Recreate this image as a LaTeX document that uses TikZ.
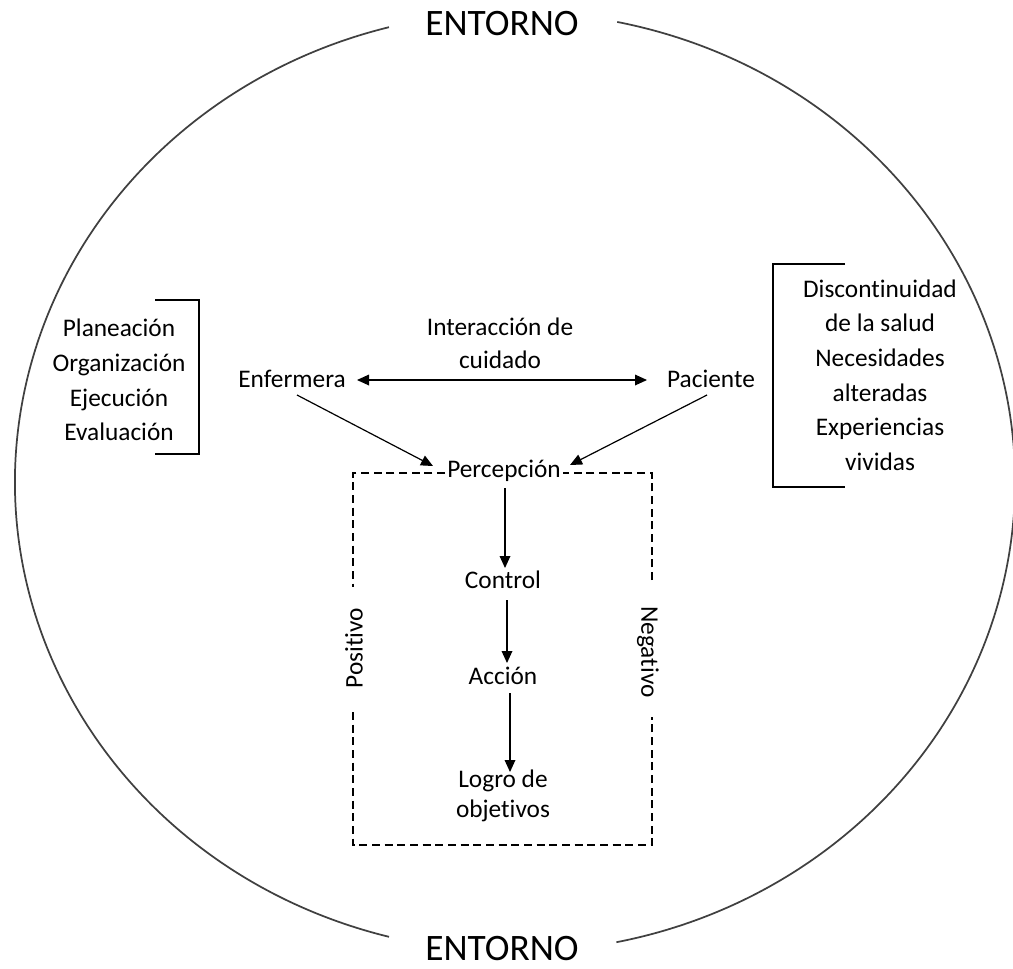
\documentclass[tikz,border=0pt]{standalone}
\usepackage{fontspec}
\setmainfont{Carlito}[Ligatures={NoCommon,NoContextual}]
\usetikzlibrary{arrows.meta}
\begin{document}
\begin{tikzpicture}[x=0.75pt,y=-0.75pt,
  lbl/.style={inner sep=0pt, font=\fontsize{19}{26}\selectfont},
  title/.style={inner sep=0pt, font=\fontsize{28}{34}\selectfont},
  tip/.tip={Triangle[length=9pt,width=8pt]},
  link/.style={-tip, line width=0.9pt},
  bothlink/.style={tip-tip, line width=0.9pt},
  bracket/.style={line width=1.1pt},
  frame/.style={dash pattern=on 6pt off 3.5pt, line width=0.8pt},
  env/.style={line width=1.3pt, black!75}]
\useasboundingbox (0,0) rectangle (1013,968);

% environment ellipse, open at top and bottom for the labels
\draw[env] (515,482) ++(-78.2:500 and 470)
  arc[start angle=-78.2, end angle=78.3, x radius=500, y radius=470];
\draw[env] (515,482) ++(104.6:500 and 470)
  arc[start angle=104.6, end angle=255.4, x radius=500, y radius=470];
\node[title, anchor=base] (envTop) at (502,35) {ENTORNO};
\node[title, anchor=base] (envBot) at (502,960) {ENTORNO};

% side lists with brackets
\node[lbl, align=center] (tasks) at (119,380)
  {Planeación\\Organización\\Ejecución\\Evaluación};
\draw[bracket] (155,300) -- (199,300) -- (199,454) -- (155,454);
\node[lbl, align=center] (needs) at (880,375)
  {Discontinuidad\\de la salud\\Necesidades\\alteradas\\Experiencias\\vividas};
\draw[bracket] (845,264) -- (773,264) -- (773,487) -- (845,487);

% main nodes
\node[lbl, anchor=base] (enf) at (292,387) {Enfermera};
\node[lbl, anchor=base] (pac) at (711,387) {Paciente};
\node[lbl, align=center, font=\fontsize{19}{25}\selectfont] (inter) at (500,343)
  {Interacción de\\cuidado};
\node[lbl, anchor=base] (per) at (504,477) {Percepción};
\node[lbl, anchor=base] (ctl) at (503,588) {Control};
\node[lbl, anchor=base] (acc) at (503,684) {Acción};
\node[lbl, align=center, anchor=north, font=\fontsize{19}{22.5}\selectfont] (goal)
  at (503,770) {Logro de\\objetivos};
\node[lbl, rotate=90] (pos) at (354,648) {Positivo};
\node[lbl, rotate=-90] (neg) at (648,652) {Negativo};

% dashed frame around the process
\draw[frame] (445,473) -- (353,473) -- (353,587);
\draw[frame] (353,712) -- (353,845) -- (652,845) -- (652,717);
\draw[frame] (652,580) -- (652,473) -- (563,473);

% connectors
\draw[bothlink] ([shift={(65,-7)}]enf.base) -- ([shift={(-64,-7)}]pac.base);
\draw[link] ([shift={(5,8)}]enf.base) -- ([shift={(-71,-11)}]per.base);
\draw[link] ([shift={(-4,8)}]pac.base) -- ([shift={(66,-12)}]per.base);
\draw[link] ([shift={(1,11)}]per.base) -- ([shift={(2,-20)}]ctl.base);
\draw[link] ([shift={(4,12)}]ctl.base) -- ([shift={(4,-21)}]acc.base);
\draw[link] ([shift={(7,9)}]acc.base) -- ([shift={(7,2)}]goal.north);
\end{tikzpicture}
\end{document}
